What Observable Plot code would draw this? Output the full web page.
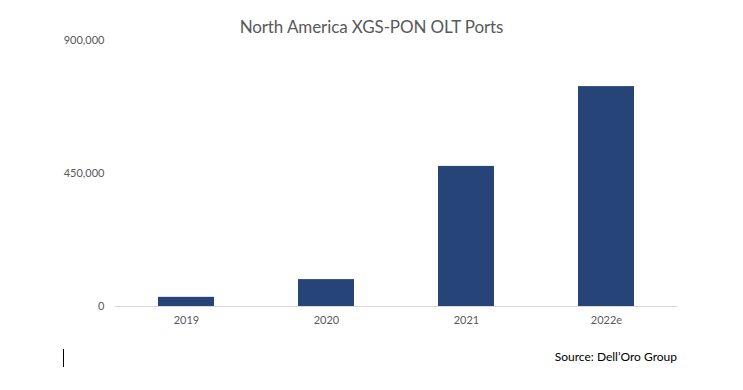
<!DOCTYPE html>
<html>
<head>
<meta charset="utf-8">
<script src="https://cdn.jsdelivr.net/npm/d3@7"></script>
<script src="https://cdn.jsdelivr.net/npm/@observablehq/plot@0.6"></script>
<style>
  html, body { margin: 0; padding: 0; background: #fff; }
  #wrap { width: 743px; height: 390px; position: relative; font-family: Lato, "DejaVu Sans Condensed", sans-serif; color: #595959; }
  #title { position: absolute; left: 0; width: 743px; top: 15px; text-align: center; font-size: 17px; line-height: 24px; letter-spacing: -0.1px; }
  #chart { position: absolute; left: 0; top: 30px; }
  #source { position: absolute; right: 66px; top: 348px; font-size: 12px; line-height: 18px; color: #000; }
  #cursor { position: absolute; left: 63px; top: 349px; width: 1px; height: 18px; background: #000; }
</style>
</head>
<body>
<div id="wrap">
  <div id="title">North America XGS-PON OLT Ports</div>
  <div id="chart"></div>
  <div id="cursor"></div>
  <div id="source">Source: Dell’Oro Group</div>
</div>
<script>
const years = ["2019", "2020", "2021", "2022e"];
const ports = [31000, 91000, 474000, 744000];
const yTicks = [0, 450000, 900000];

const data = years.map((y, i) => ({year: y, value: ports[i]}));

const chart = Plot.plot({
  width: 743,
  height: 310,
  marginTop: 10,
  marginBottom: 34,
  marginLeft: 115,
  marginRight: 66,
  style: {fontFamily: 'Lato, "DejaVu Sans Condensed", sans-serif', fontSize: "11px", color: "#595959", background: "transparent"},
  x: {domain: years, paddingInner: 0.6, paddingOuter: 0.3, label: null, tickSize: 0, tickPadding: 10},
  y: {domain: [0, 900000], ticks: yTicks, tickFormat: d3.format(","), label: null, tickSize: 0, tickPadding: 11},
  marks: [
    Plot.barY(data, {x: "year", y: "value", fill: "#264478"}),
    Plot.ruleY([0], {stroke: "#d9d9d9", strokeWidth: 1})
  ]
});
document.getElementById("chart").appendChild(chart);
</script>
</body>
</html>
